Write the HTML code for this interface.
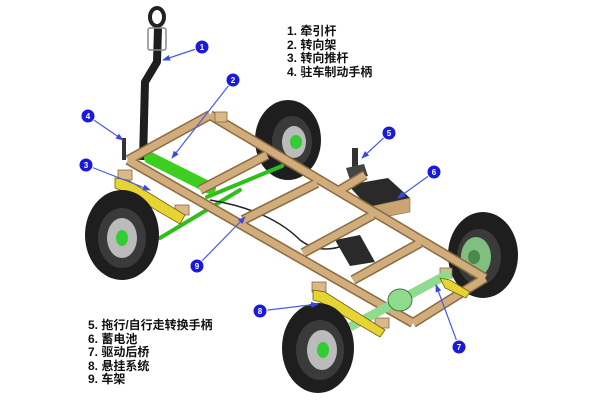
<!DOCTYPE html>
<html><head><meta charset="utf-8"><style>
html,body{margin:0;padding:0;background:#fff;}
.w{position:relative;width:600px;height:400px;overflow:hidden;background:#fff;}
.lg{position:absolute;font-family:"Liberation Sans","Noto Sans CJK SC",sans-serif;font-size:12px;font-weight:bold;line-height:13.5px;color:#111;}
</style></head><body><div class="w">
<svg width="600" height="400" viewBox="0 0 600 400" xmlns="http://www.w3.org/2000/svg">
<defs><marker id="ah" markerWidth="8" markerHeight="8" refX="7" refY="4" orient="auto" markerUnits="userSpaceOnUse"><path d="M0,1 L8,4 L0,7 Z" fill="#3a4ae0"/></marker></defs>
<g>
<ellipse cx="288" cy="140" rx="33" ry="40" fill="#1e1e1e"/><ellipse cx="292" cy="142" rx="20" ry="26" fill="#3a3a3a"/><ellipse cx="294" cy="142" rx="12" ry="16" fill="#bbb"/><ellipse cx="296" cy="142" rx="6" ry="7" fill="#3c3"/>
<ellipse cx="483" cy="255" rx="35" ry="43" fill="#1e1e1e"/><ellipse cx="479" cy="257" rx="22" ry="28" fill="#3a3a3a"/><ellipse cx="476" cy="257" rx="15" ry="20" fill="#7fbf7f"/><ellipse cx="474" cy="257" rx="6" ry="7" fill="#4a8a4a"/>
</g>
<path d="M158 28 L157 62 L145 82 L143 160" fill="none" stroke="#1e1e1e" stroke-width="8" stroke-linejoin="round"/>
<ellipse cx="157" cy="17" rx="7" ry="9" fill="none" stroke="#222" stroke-width="4"/>
<rect x="148" y="28" width="18" height="22" rx="2" fill="none" stroke="#888" stroke-width="1.5"/>
<g stroke="#2fbf1a" stroke-linecap="round">
<line x1="160" y1="238" x2="240" y2="190" stroke-width="4"/>
<line x1="207" y1="197" x2="282" y2="166" stroke-width="4"/>
<line x1="220" y1="182" x2="255" y2="158" stroke-width="4"/>
<line x1="150" y1="158" x2="210" y2="188" stroke-width="12" stroke="#3ccf22"/>
</g>
<path d="M210 200 Q270 210 300 240 Q320 255 345 245" fill="none" stroke="#222" stroke-width="1.5"/>
<polygon points="335,240 360,235 375,262 350,266" fill="#2a2a2a"/>
<polygon points="348,185 388,178 410,198 368,207" fill="#2a2a2a"/>
<polygon points="368,207 410,198 410,212 368,220" fill="#c9a574" stroke="#8a6a40" stroke-width="0.6"/>
<rect x="352" y="148" width="6" height="22" fill="#333"/><polygon points="346,168 364,164 368,176 350,180" fill="#444"/>
<g stroke-linecap="butt">
<g stroke="#8a6a40" stroke-width="10">
<line x1="210" y1="115" x2="485" y2="278"/>
<line x1="128" y1="160" x2="413" y2="323"/>
<line x1="128" y1="160" x2="210" y2="115"/>
<line x1="413" y1="323" x2="485" y2="278"/>
<line x1="200" y1="190" x2="267" y2="155"/>
<line x1="243" y1="220" x2="317" y2="183"/>
<line x1="303" y1="253" x2="373" y2="215"/>
<line x1="353" y1="280" x2="420" y2="243"/>
<line x1="340" y1="190" x2="365" y2="175"/>
</g>
<g stroke="#d2ad7c" stroke-width="7">
<line x1="210" y1="115" x2="485" y2="278"/>
<line x1="128" y1="160" x2="413" y2="323"/>
<line x1="128" y1="160" x2="210" y2="115"/>
<line x1="413" y1="323" x2="485" y2="278"/>
<line x1="200" y1="190" x2="267" y2="155"/>
<line x1="243" y1="220" x2="317" y2="183"/>
<line x1="303" y1="253" x2="373" y2="215"/>
<line x1="353" y1="280" x2="420" y2="243"/>
<line x1="340" y1="190" x2="365" y2="175"/>
</g>
</g>
<g fill="#d9b98a" stroke="#8a6a40" stroke-width="0.8">
<rect x="118" y="170" width="14" height="10"/><rect x="175" y="205" width="14" height="10"/>
<rect x="312" y="282" width="14" height="10"/><rect x="375" y="318" width="14" height="10"/>
<rect x="215" y="112" width="12" height="10"/><rect x="440" y="268" width="12" height="10"/>
</g>
<line x1="350" y1="327" x2="450" y2="273" stroke="#8fdc8f" stroke-width="9"/>
<ellipse cx="400" cy="300" rx="12" ry="11" fill="#8fdc8f" stroke="#3a7a3a"/>
<g fill="#e6d432" stroke="#6a6010" stroke-width="0.8">
<polygon points="115,178 128,180 185,215 180,224 125,192 115,188"/>
<polygon points="313,290 325,292 385,330 380,337 320,302 313,300"/>
<polygon points="440,278 450,280 470,292 466,298 445,288"/>
</g>
<ellipse cx="122" cy="235" rx="37" ry="45" fill="#1e1e1e"/><ellipse cx="122" cy="238" rx="24" ry="30" fill="#3a3a3a"/><ellipse cx="122" cy="238" rx="15" ry="20" fill="#bbb"/><ellipse cx="122" cy="238" rx="6" ry="8" fill="#3c3"/>
<ellipse cx="318" cy="348" rx="36" ry="45" fill="#1e1e1e"/><ellipse cx="320" cy="350" rx="24" ry="30" fill="#3a3a3a"/><ellipse cx="322" cy="350" rx="15" ry="20" fill="#bbb"/><ellipse cx="323" cy="350" rx="6" ry="8" fill="#3c3"/>
<rect x="122" y="138" width="4" height="22" fill="#333"/>
<g stroke="#4a5ae8" stroke-width="1.2" marker-end="url(#ah)">
<line x1="202" y1="47" x2="163" y2="60"/>
<line x1="233" y1="80" x2="172" y2="158"/>
<line x1="86" y1="165" x2="150" y2="190"/>
<line x1="88" y1="116" x2="123" y2="140"/>
<line x1="389" y1="133" x2="362" y2="158"/>
<line x1="434" y1="172" x2="398" y2="198"/>
<line x1="459" y1="347" x2="436" y2="285"/>
<line x1="260" y1="311" x2="318" y2="304"/>
<line x1="197" y1="266" x2="245" y2="217"/>
</g>
<g fill="#1a1ad8" stroke="#fff" stroke-width="1">
<circle cx="202" cy="47" r="7"/><circle cx="233" cy="80" r="7"/><circle cx="86" cy="165" r="7"/><circle cx="88" cy="116" r="7"/><circle cx="389" cy="133" r="7"/><circle cx="434" cy="172" r="7"/><circle cx="459" cy="347" r="7"/><circle cx="260" cy="311" r="7"/><circle cx="197" cy="266" r="7"/>
</g>
<g fill="#fff" font-family="Liberation Sans,sans-serif" font-size="8" font-weight="bold" text-anchor="middle">
<text x="202" y="50">1</text><text x="233" y="83">2</text><text x="86" y="168">3</text><text x="88" y="119">4</text><text x="389" y="136">5</text><text x="434" y="175">6</text><text x="459" y="350">7</text><text x="260" y="314">8</text><text x="197" y="269">9</text>
</g>
</svg>
<div class="lg" style="left:287px;top:25px">1. 牵引杆<br>2. 转向架<br>3. 转向推杆<br>4. 驻车制动手柄</div>
<div class="lg" style="left:88px;top:319px">5. 拖行/自行走转换手柄<br>6. 蓄电池<br>7. 驱动后桥<br>8. 悬挂系统<br>9. 车架</div>
</div></body></html>
